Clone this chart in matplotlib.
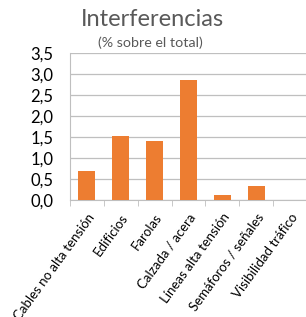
import matplotlib.pyplot as plt

categories = [
    "Cables no alta tensión", "Edificios", "Farolas", "Calzada / acera",
    "Líneas alta tensión", "Semáforos / señales", "Visibilidad tráfico",
]
values = [0.69, 1.52, 1.40, 2.86, 0.12, 0.33, 0.0]
y_ticks = [0.0, 0.5, 1.0, 1.5, 2.0, 2.5, 3.0, 3.5]

plt.rcParams["font.family"] = ["Lato", "DejaVu Sans"]

fig = plt.figure(figsize=(3.06, 3.17), dpi=100)
ax = fig.add_axes([70 / 306, 1 - 200 / 317, 237 / 306, 147 / 317])

x = list(range(len(categories)))
ax.bar(x, values, width=0.5, color="#ED7D31", zorder=3)

ax.set_xlim(-0.5, len(categories) - 0.5)
ax.set_ylim(0, 3.5)
ax.set_yticks(y_ticks)
ax.set_yticklabels([f"{v:.1f}".replace(".", ",") for v in y_ticks], fontsize=12)
ax.yaxis.grid(True, color="#BFBFBF", linewidth=0.9, zorder=0)

ax.set_xticks([i - 0.5 for i in x] + [len(categories) - 0.5], minor=True)
ax.set_xticks(x)
ax.set_xticklabels(categories, rotation=54, ha="right", rotation_mode="anchor",
                   fontsize=9.5)
ax.tick_params(axis="x", which="major", length=0, pad=8)
ax.tick_params(axis="x", which="minor", length=4, color="#BFBFBF", direction="out")
ax.tick_params(axis="y", length=0, pad=12)

for side in ["top", "right"]:
    ax.spines[side].set_visible(False)
for side in ["left", "bottom"]:
    ax.spines[side].set_color("#BFBFBF")

fig.text(0.497, 1 - 20 / 317, "Interferencias", ha="center", va="center",
         fontsize=17, color="#595959")
fig.text(0.49, 1 - 43 / 317, "(% sobre el total)", ha="center", va="center",
         fontsize=10.3, color="#595959")

fig.savefig("out.png", dpi=100)
